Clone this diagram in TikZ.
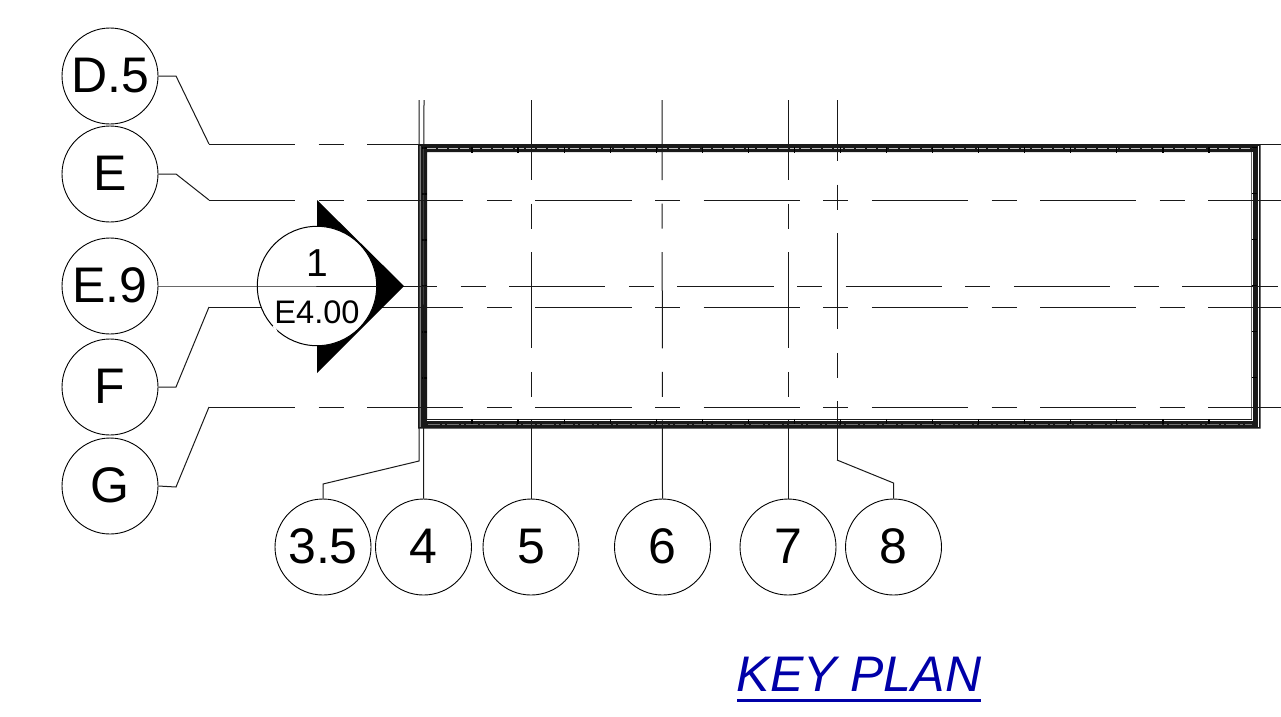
\documentclass[tikz,border=0pt]{standalone}
\usepackage{fontspec}
\setmainfont{Liberation Sans}
\begin{document}
\begin{tikzpicture}[x=1pt,y=-1pt,
  ln/.style={line width=1pt,black!90},
  gridline/.style={ln,dash pattern=on 96.2pt off 23.5pt on 25pt off 23.5pt},
  bubble/.style={circle,draw=black,line width=0.9pt,fill=white,minimum size=96pt,inner sep=0pt,text height=33.5pt,text depth=0pt,font=\fontsize{50}{50}\selectfont},
  marktext/.style={inner sep=0pt,text=black},
  walldark/.style={fill=black!90},
  tick/.style={line width=1.2pt,black}]
\useasboundingbox (0,0) rectangle (1281,716);
% wall
\fill[walldark,even odd rule] (418,144.2) rectangle (1260.7,428.5) (427,152.2) rectangle (1251.5,419);
\draw[black!25,line width=0.8pt,dash pattern=on 9pt off 2pt] (427,148.6) -- (1252,148.6);
\draw[white,line width=0.9pt] (426.5,420.8) -- (1252,420.8) -- (1252,151.5);
\draw[black!55,line width=0.9pt,dash pattern=on 12pt off 2pt on 3pt off 2pt] (428,424.8) -- (1252,424.8);
\draw[black!50,line width=2pt] (420,146) -- (420,427);
\draw[black!50,line width=1.1pt] (423.6,147) -- (423.6,427);
\draw[white,line width=0.9pt] (1258.5,146) -- (1258.5,427);
\draw[black!60,line width=0.9pt] (1251,152) -- (1251,419);
\foreach \i in {0,...,16} {
  \draw[tick] ({472+46.06*\i},147) -- ({472+46.06*\i},152.5);
  \draw[tick] ({472+46.06*\i},419) -- ({472+46.06*\i},424);
}
\foreach \i in {0,...,5} {
  \draw[tick] (422,{148+46*\i}) -- (427,{148+46*\i});
  \draw[tick] (1252,{147.5+46*\i}) -- (1257,{147.5+46*\i});
}
% bubbles
\node[bubble] (cD) at (110,76) {D.5};
\node[bubble] (cE) at (110,174) {E};
\node[bubble] (cN) at (110,286) {E.9};
\node[bubble] (cF) at (110,387) {F};
\node[bubble] (cG) at (110,486) {G};
\node[bubble] (c35) at (323,547) {3.5};
\node[bubble] (c4) at (423.5,547) {4};
\node[bubble] (c5) at (531,547) {5};
\node[bubble] (c6) at (662.5,547) {6};
\node[bubble] (c7) at (788,547) {7};
\node[bubble] (c8) at (893.5,547) {8};
% grid coordinates
\coordinate (hD) at (209,144); \coordinate (eD) at (1281,144);
\coordinate (hE) at (209,200); \coordinate (eE) at (1281,200);
\coordinate (hN) at (341,286); \coordinate (eN) at (1281,286);
\coordinate (hF) at (209,307); \coordinate (eF) at (1281,307);
\coordinate (hG) at (209,407); \coordinate (eG) at (1281,407);
\coordinate (t35) at (419,100); \coordinate (t4) at (424,100);
\coordinate (t5) at (531,100); \coordinate (t6) at (662,100);
\coordinate (t7) at (788,100); \coordinate (t8) at (837,100);
\coordinate (b8) at (837,460);
% leaders
\draw[ln] (cD.east) -- (176,76) -- (hD);
\draw[ln] (cE.east) -- (176,174) -- (hE);
\draw[ln] (cF.east) -- (176,387) -- (hF);
\draw[ln] (cG.east) -- (176,487) -- (hG);
% horizontal grid lines
\foreach \n in {D,E,F,G}
  \draw[gridline,dash phase=10pt] (h\n) -- (e\n);
\draw[gridline] (hN) -- (eN);
% vertical grid lines
\draw[ln] (t35) -- (419,461) -- (323,484) -- (c35.north);
\draw[ln] (t4) -- (c4.north);
\draw[gridline,dash phase=16pt] (t5) -- (c5.north);
\draw[gridline,dash phase=16pt] (t6) -- (c6.north);
\draw[gridline,dash phase=16pt] (t7) -- (c7.north);
\draw[gridline,dash phase=35pt] (t8) -- (b8);
\draw[ln] (b8) -- (893.5,483) -- (c8.north);
% section marker
\coordinate (mTop) at (317,200); \coordinate (mTip) at (404,286); \coordinate (mBot) at (317,373);
\fill[black] (mTop) -- (mTip) -- (mBot) -- cycle;
\node[circle,draw=black,line width=1pt,fill=white,minimum size=119.4pt,inner sep=0pt] (mk) at (317,286) {};
\draw[ln] (cN.east) -- (mk.west) -- (mk.east);
\draw[white,line width=1.8pt] (273.5,326) -- (276.7,331.7);
\node[marktext,font=\fontsize{39}{39}\selectfont] (mk1) at (317,263) {1};
\node[marktext,font=\fontsize{32.6}{33}\selectfont] (mk2) at (317,312) {E4.00};
% title
\definecolor{keyblue}{RGB}{0,0,168}
\node[inner sep=0pt,text=keyblue,font=\fontsize{50}{50}\selectfont\itshape] (kp) at (859,674.5) {KEY PLAN};
\coordinate (ulA) at (737,700); \coordinate (ulB) at (981,700);
\draw[keyblue,line width=3pt] (ulA) -- (ulB);
\end{tikzpicture}
\end{document}
